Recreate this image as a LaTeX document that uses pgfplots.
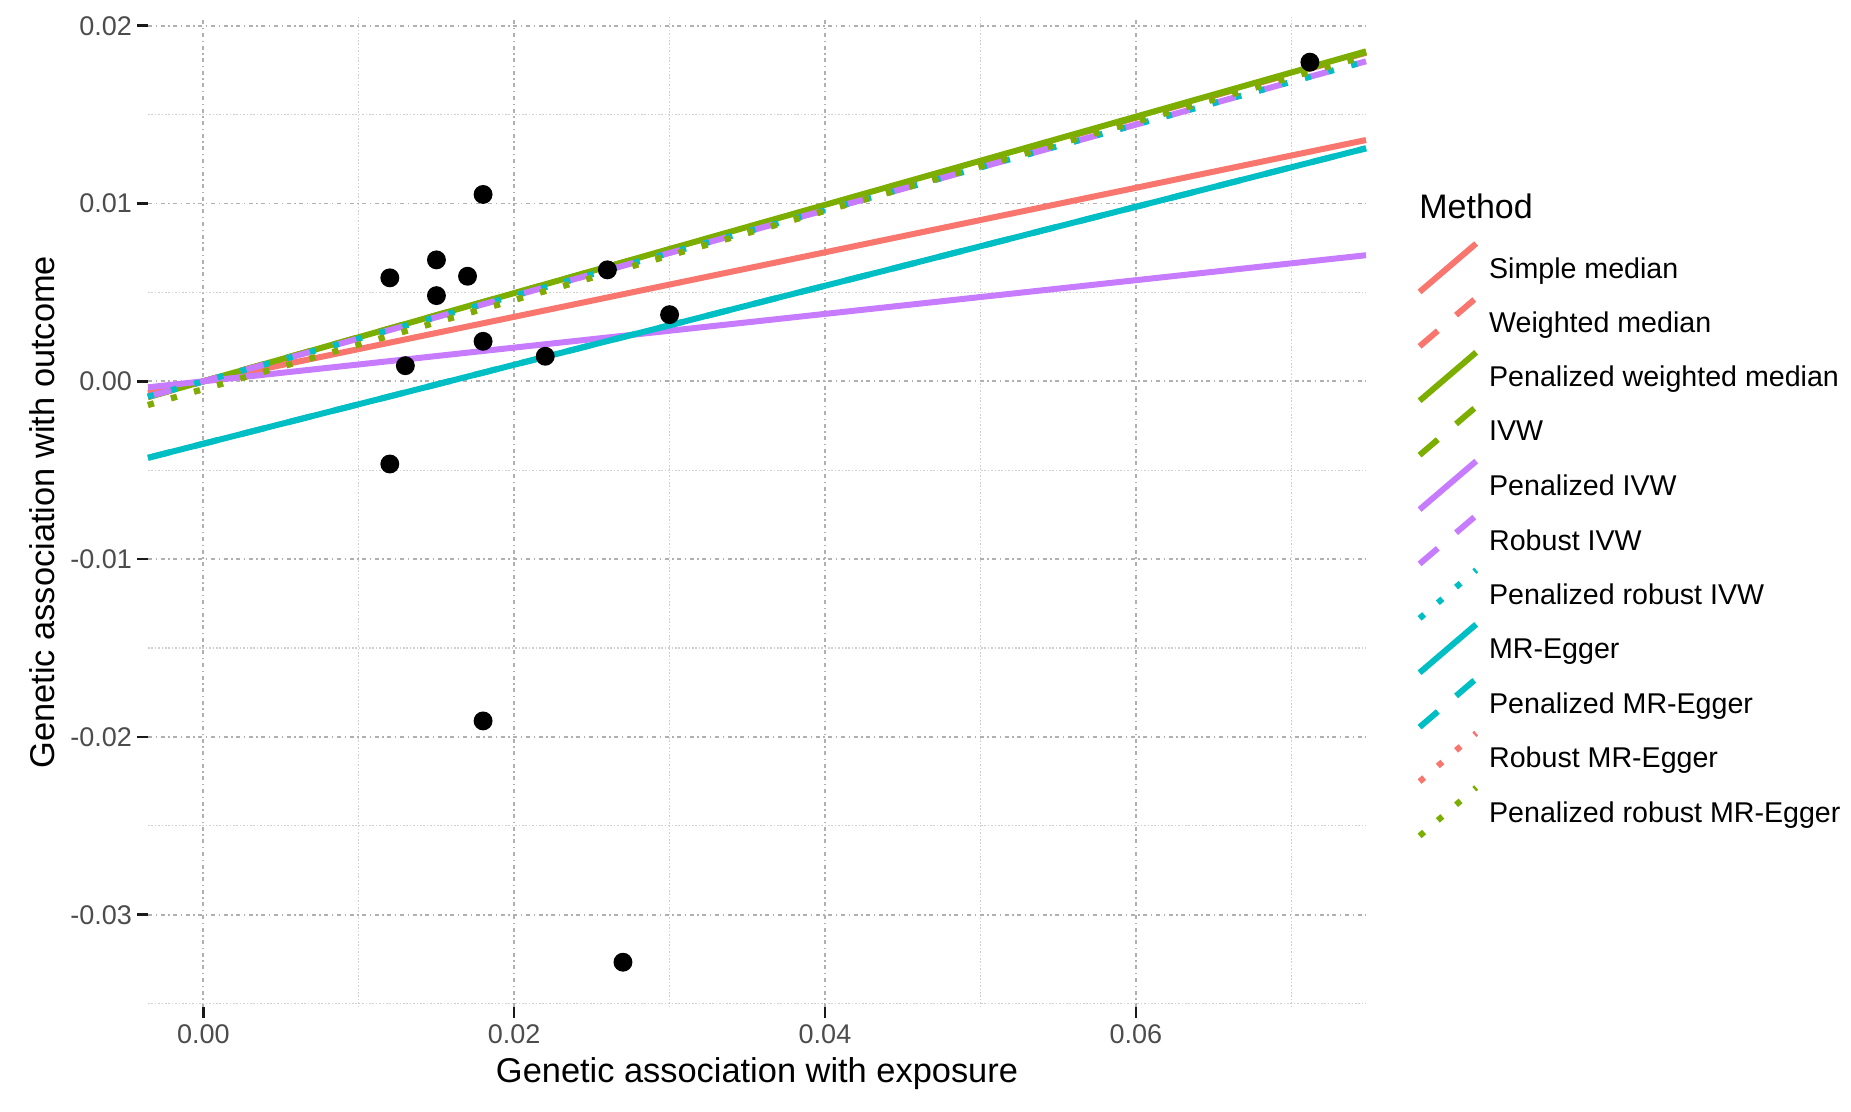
\documentclass[border=0pt]{standalone}
\usepackage{fontspec}
\setmainfont{Liberation Sans}
\usepackage{pgfplots}
\pgfplotsset{compat=1.18}
\definecolor{cR}{HTML}{F8766D}
\definecolor{cG}{HTML}{7CAE00}
\definecolor{cP}{HTML}{C77CFF}
\definecolor{cC}{HTML}{00BFC4}
\definecolor{gridmaj}{HTML}{B0B0B0}
\definecolor{gridmin}{HTML}{D0D0D0}
\begin{document}
\begin{tikzpicture}
\useasboundingbox (-74pt,-52.4pt) rectangle (851.5pt,503.6pt);
\begin{axis}[
  at={(0pt,0pt)}, anchor=south west,
  scale only axis, width=609pt, height=495pt,
  xmin=-0.00356, xmax=0.07481, ymin=-0.0352, ymax=0.02048,
  clip=false,
  axis x line*=bottom, axis y line*=left, axis line style={draw=none},
  scaled ticks=false,
  xtick={0,0.02,0.04,0.06}, xticklabels={0.00,0.02,0.04,0.06},
  ytick={-0.03,-0.02,-0.01,0,0.01,0.02}, yticklabels={-0.03,-0.02,-0.01,0.00,0.01,0.02},
  minor xtick={0.01,0.03,0.05,0.07},
  minor ytick={-0.035,-0.025,-0.015,-0.005,0.005,0.015},
  grid=both,
  major grid style={color=gridmaj, line width=0.9pt, dash pattern=on 2pt off 1.8pt on 0.7pt off 1.8pt},
  minor grid style={color=gridmin, line width=0.6pt, dash pattern=on 0.8pt off 0.9pt},
  tick align=outside, major tick length=5.3pt, minor tick length=0pt,
  every tick/.style={color=black!90, line width=1.3pt},
  tick label style={font=\fontsize{13.5}{15}\selectfont, text=black!70},
  xticklabel style={anchor=base, inner sep=0pt, yshift=-13.1pt},
  yticklabel style={anchor=east, inner sep=0pt, xshift=-2.5pt},
  xlabel={Genetic association with exposure},
  ylabel={Genetic association with outcome},
  label style={font=\fontsize{17.2}{20}\selectfont, text=black},
  xlabel style={at={(axis description cs:0.5,-0.0760)}, anchor=base, inner sep=0pt},
  ylabel style={at={(axis description cs:-0.0770,0.5)}, anchor=base, inner sep=0pt},
  legend cell align=left,
  legend image code/.code={\draw[#1] (0pt,-12.1pt) -- (28.3pt,12.1pt);},
  legend style={at={(axis description cs:1.0415,0.7744)}, anchor=north west,
    draw=none, fill=none, inner sep=0pt, outer sep=0pt, row sep=0pt,
    nodes={inner sep=0pt, minimum height=26.24pt, text depth=0pt},
    font=\fontsize{14.3}{16}\selectfont,
    /tikz/every odd column/.append style={column sep=5pt}},
  every axis plot/.append style={line width=3pt, line cap=butt},
]
\addplot[only marks, mark=*, mark size=3.2pt, black, forget plot] coordinates {
(0.012,0.00582) (0.015,0.00683) (0.015,0.00482) (0.017,0.00591) (0.018,0.01051)
(0.018,0.00225) (0.013,0.00088) (0.022,0.00141) (0.030,0.00375) (0.026,0.00627)
(0.012,-0.00465) (0.018,-0.0191) (0.027,-0.03267) (0.0712,0.01795)};
\addplot[cR, solid] coordinates {(-0.00356,-0.000646) (0.07481,0.013571)};
\addlegendentry{Simple median}
\addplot[cR, dash pattern=on 12pt off 12pt] coordinates {(-0.00356,-0.000879) (0.07481,0.018478)};
\addlegendentry{Weighted median}
\addplot[cG, solid] coordinates {(-0.00356,-0.000883) (0.07481,0.018560)};
\addlegendentry{Penalized weighted median}
\addplot[cG, dash pattern=on 12pt off 12pt] coordinates {(-0.00356,-0.000881) (0.07481,0.018515)};
\addlegendentry{IVW}
\addplot[cP, solid] coordinates {(-0.00356,-0.000337) (0.07481,0.007092)};
\addlegendentry{Penalized IVW}
\addplot[cP, dash pattern=on 12pt off 12pt] coordinates {(-0.00356,-0.000857) (0.07481,0.017999)};
\addlegendentry{Robust IVW}
\addplot[cC, dash pattern=on 3pt off 9pt] coordinates {(-0.00356,-0.000857) (0.07481,0.017999)};
\addlegendentry{Penalized robust IVW}
\addplot[cC, solid] coordinates {(-0.00356,-0.004301) (0.07481,0.013105)};
\addlegendentry{MR-Egger}
\addplot[cC, dash pattern=on 12pt off 12pt] coordinates {(-0.00356,-0.004301) (0.07481,0.013105)};
\addlegendentry{Penalized MR-Egger}
\addplot[cR, dash pattern=on 3pt off 9pt] coordinates {(-0.00356,-0.001332) (0.07481,0.018307)};
\addlegendentry{Robust MR-Egger}
\addplot[cG, dash pattern=on 3pt off 9pt] coordinates {(-0.00356,-0.001332) (0.07481,0.018307)};
\addlegendentry{Penalized robust MR-Egger}
\node[anchor=west, inner sep=0pt, font=\fontsize{17}{20}\selectfont] at (axis description cs:1.0435,0.8087) {Method};
\end{axis}
\end{tikzpicture}
\end{document}
